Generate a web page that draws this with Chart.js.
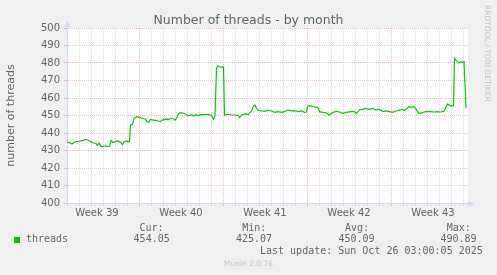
<!DOCTYPE html>
<html>
<head>
<meta charset="utf-8">
<title>Number of threads - by month</title>
<script src="https://cdn.jsdelivr.net/npm/chart.js@4/dist/chart.umd.min.js"></script>
<style>
  html, body { margin: 0; padding: 0; background: #f0f0f0; }
  #graph { position: relative; width: 497px; height: 275px; background: #f0f0f0; overflow: hidden; }
  #graph canvas { position: absolute; left: 0; top: 0; }
  .txt { position: absolute; white-space: pre; color: #666666; }
  .mono { font: 10px/10px 'DejaVu Sans Mono', monospace; }
  #title { left: 0; width: 497px; top: 12px; text-align: center; font: 12.5px/15px 'DejaVu Sans', sans-serif; }
  #watermark { left: 482.5px; top: 5px; font: 7.5px/9px 'DejaVu Sans', sans-serif; color: #c4c4c4; writing-mode: vertical-rl; }
  #version { left: 0; width: 497px; top: 260px; text-align: center; font: 7.5px/7.5px 'DejaVu Sans', sans-serif; color: #c4c4c4; }
  #swatch { position: absolute; left: 14px; top: 237px; width: 6px; height: 6px; background: #00cc00; }
</style>
</head>
<body>
<div id="graph">
  <canvas id="threadsChart" width="497" height="275"></canvas>
  <div id="title" class="txt">Number of threads - by month</div>
  <div id="watermark" class="txt">RRDTOOL / TOBI OETIKER</div>
  <div id="swatch"></div>
  <div id="version" class="txt">Munin 2.0.76</div>
</div>
<script>
// Hours since Monday of week 39 (Sep 22 2025, 00:00)
const hours = [24, 30, 34, 40, 48, 58, 62, 66, 70, 76,
  82, 85, 88, 92, 96, 100, 104, 109, 112, 116,
  120, 126, 132, 135, 138, 144, 149, 151, 155, 158,
  164, 171, 174, 181, 184, 187, 191, 197, 204, 211,
  214, 221, 227, 234, 241, 247, 251, 257, 261, 264,
  267, 274, 277, 281, 287, 294, 300, 307, 313, 317,
  320, 323, 326, 330, 335, 337, 339, 347, 353, 360,
  367, 369, 373, 380, 387, 390, 393, 397, 400, 403,
  407, 413, 420, 427, 433, 439, 446, 453, 459, 466,
  473, 479, 486, 493, 499, 503, 505, 509, 516, 523,
  526, 529, 536, 543, 546, 549, 556, 563, 569, 575,
  582, 592, 599, 602, 605, 609, 615, 622, 629, 635,
  642, 645, 652, 655, 662, 669, 675, 682, 689, 695,
  699, 705, 708, 711, 718, 721, 725, 728, 735, 741,
  751, 758, 765, 771, 778, 781, 785, 791, 797, 799,
  801, 805, 808, 811, 815, 818, 822];

// Number of threads at each sample
const threads = [435.0, 434.3, 433.7, 435.0, 435.3, 435.8, 436.4, 436.0, 435.2, 434.4,
  434.0, 433.0, 434.3, 432.2, 432.2, 432.6, 432.3, 432.5, 435.8, 434.6,
  435.0, 435.5, 434.4, 433.2, 435.0, 435.3, 435.0, 444.6, 445.0, 448.4,
  449.3, 448.8, 448.4, 447.9, 446.5, 446.0, 447.8, 447.4, 447.0, 446.5,
  447.4, 447.9, 447.8, 448.4, 447.4, 450.9, 451.6, 451.3, 450.9, 450.3,
  449.9, 450.3, 449.7, 450.3, 449.9, 450.6, 450.5, 450.7, 449.7, 447.8,
  450.0, 477.0, 478.4, 477.6, 477.6, 477.5, 450.3, 450.7, 450.3, 450.3,
  449.9, 448.8, 450.3, 450.9, 450.7, 451.8, 452.6, 455.5, 456.0, 454.1,
  453.0, 452.6, 452.4, 453.0, 452.6, 451.8, 452.2, 451.8, 452.2, 453.1,
  452.6, 452.8, 452.2, 452.6, 451.8, 452.0, 455.1, 455.6, 455.1, 454.7,
  454.5, 452.2, 451.8, 451.6, 450.7, 450.3, 451.8, 452.4, 452.0, 451.2,
  451.8, 452.2, 452.2, 451.2, 451.8, 453.3, 453.5, 454.1, 453.5, 454.1,
  453.1, 453.5, 453.1, 452.2, 452.6, 452.2, 451.8, 452.6, 453.1, 453.5,
  452.8, 454.1, 455.1, 454.7, 455.1, 454.1, 452.2, 451.2, 451.6, 452.2,
  452.2, 452.0, 452.2, 452.0, 452.4, 454.1, 456.5, 455.5, 455.5, 482.7,
  482.0, 480.8, 480.0, 480.8, 480.4, 480.8, 454.1];

// X axis: week labels sit in the middle of each week, red lines at week starts
const weekLabels = ['Week 39', 'Week 40', 'Week 41', 'Week 42', 'Week 43'];
const weekCenters = [84, 252, 420, 588, 756];
const weekStarts = [168, 336, 504, 672];

// Legend / stats
const seriesName = 'threads';
const statLabels = ['Cur:', 'Min:', 'Avg:', 'Max:'];
const statValues = ['454.05', '425.07', '450.09', '490.89'];
const lastUpdate = 'Last update: Sun Oct 26 03:00:05 2025';

const FONT_COLOR = '#666666';
const AXIS_COLOR = '#cfd6f8';
const GRID_COLOR = 'rgba(140, 140, 140, 0.32)';
const MGRID_COLOR = 'rgba(222, 79, 79, 0.36)';

Chart.defaults.font.family = "'DejaVu Sans', sans-serif";
Chart.defaults.color = FONT_COLOR;

// Footer texts (monospace like rrdtool legend)
function addText(text, left, top) {
    const el = document.createElement('div');
    el.className = 'txt mono';
    el.textContent = text;
    el.style.left = left + 'px';
    el.style.top = top + 'px';
    document.getElementById('graph').appendChild(el);
}
addText(seriesName, 26, 234.2);
const statLabelX = [139.4, 242.3, 345, 446.7];
const statValueX = [133.6, 236, 338.4, 440.4];
statLabels.forEach((s, i) => addText(s, statLabelX[i], 223.1));
statValues.forEach((s, i) => addText(s, statValueX[i], 234.2));
addText(lastUpdate, 260, 245.8);

// White canvas behind the plot + rrdtool style axis arrows
const muninPlugin = {
    id: 'munin',
    beforeDraw(chart) {
        const a = chart.chartArea;
        const c = chart.ctx;
        c.save();
        c.fillStyle = '#ffffff';
        c.fillRect(a.left, a.top, a.right - a.left, a.bottom - a.top);
        c.restore();
    },
    afterDraw(chart) {
        const a = chart.chartArea;
        const c = chart.ctx;
        c.save();
        c.strokeStyle = AXIS_COLOR;
        c.fillStyle = AXIS_COLOR;
        c.lineWidth = 1;
        // y axis extension + arrow
        c.beginPath();
        c.moveTo(a.left + 0.5, a.top);
        c.lineTo(a.left + 0.5, a.top - 3);
        c.stroke();
        c.beginPath();
        c.moveTo(a.left - 2.5, a.top - 1);
        c.lineTo(a.left + 3.5, a.top - 1);
        c.lineTo(a.left + 0.5, a.top - 7);
        c.closePath();
        c.fill();
        // x axis arrow
        c.beginPath();
        c.moveTo(a.right, a.bottom - 2.5);
        c.lineTo(a.right, a.bottom + 3.5);
        c.lineTo(a.right + 6, a.bottom + 0.5);
        c.closePath();
        c.fill();
        c.restore();
    }
};

// Day ticks plus the week label positions
const xTicks = [];
for (let h = 24; h <= 816; h += 24) xTicks.push(h);
weekCenters.forEach(h => xTicks.push(h));
xTicks.sort((a, b) => a - b);

const ctx = document.getElementById('threadsChart').getContext('2d');
new Chart(ctx, {
    type: 'line',
    data: {
        datasets: [{
            label: seriesName,
            data: hours.map((h, i) => ({ x: h, y: threads[i] })),
            borderColor: '#00cc00',
            borderWidth: 1.2,
            pointRadius: 0,
            tension: 0,
            fill: false
        }]
    },
    options: {
        responsive: false,
        animation: false,
        layout: { padding: { top: 28, right: 29, left: 0, bottom: 0 } },
        plugins: {
            legend: { display: false },
            title: { display: false },
            tooltip: { enabled: false }
        },
        scales: {
            x: {
                type: 'linear',
                min: 24,
                max: 826,
                afterBuildTicks: scale => {
                    scale.ticks = xTicks.map(v => ({ value: v }));
                },
                afterFit: scale => { scale.height = 72; },
                border: { color: AXIS_COLOR, width: 1, dash: [1, 1] },
                grid: {
                    color: c => {
                        const v = c.tick.value;
                        if (weekCenters.includes(v)) return 'rgba(0,0,0,0)';
                        return weekStarts.includes(v) ? MGRID_COLOR : GRID_COLOR;
                    },
                    tickColor: c => {
                        const v = c.tick.value;
                        if (weekCenters.includes(v)) return 'rgba(0,0,0,0)';
                        return weekStarts.includes(v) ? MGRID_COLOR : GRID_COLOR;
                    },
                    tickLength: 3,
                    lineWidth: 1
                },
                ticks: {
                    autoSkip: false,
                    maxRotation: 0,
                    padding: 1,
                    font: { size: 10 },
                    color: FONT_COLOR,
                    callback: v => {
                        const i = weekCenters.indexOf(v);
                        return i >= 0 ? weekLabels[i] : '';
                    }
                }
            },
            y: {
                min: 400,
                max: 500,
                afterFit: scale => { scale.width = 67; },
                border: { color: AXIS_COLOR, width: 1, dash: [1, 1] },
                grid: {
                    color: c => (c.tick.value % 10 === 0 ? MGRID_COLOR : GRID_COLOR),
                    tickColor: c => (c.tick.value % 10 === 0 ? MGRID_COLOR : GRID_COLOR),
                    tickLength: 3,
                    lineWidth: 1
                },
                ticks: {
                    stepSize: 5,
                    padding: 4,
                    font: { size: 10 },
                    color: FONT_COLOR,
                    callback: v => (v % 10 === 0 ? v : '')
                },
                title: {
                    display: true,
                    text: 'number of threads',
                    color: FONT_COLOR,
                    font: { size: 11 },
                    padding: { top: 4.5, bottom: 0 }
                }
            }
        }
    },
    plugins: [muninPlugin]
});
</script>
</body>
</html>
